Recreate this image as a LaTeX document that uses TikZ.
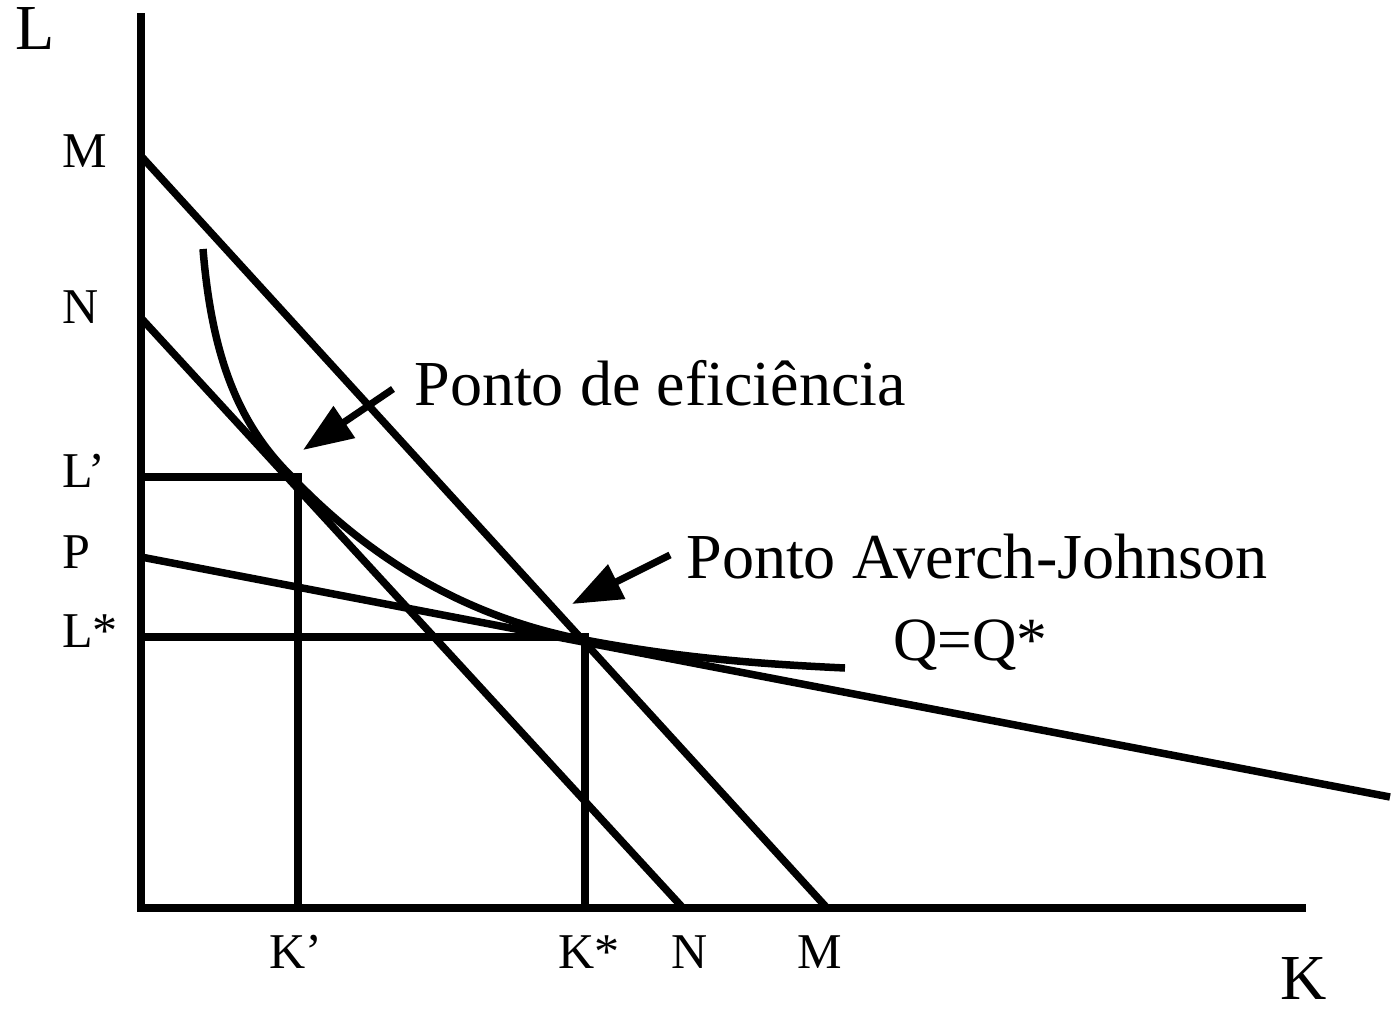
\documentclass[tikz,border=0pt]{standalone}
\usepackage{fontspec}
\setmainfont{Liberation Serif}
\usetikzlibrary{arrows.meta}

\begin{document}
\begin{tikzpicture}[
  x=0.02cm,
  y=-0.02cm,
  >={Triangle[length=1cm,width=0.74cm]},
  axis/.style={line width=0.16cm},
  link/.style={line width=0.15cm},
  pointer/.style={line width=0.14cm, ->},
  tick/.style={anchor=base west, inner sep=0pt, font=\fontsize{28.5}{30}\selectfont},
  big/.style={anchor=base west, inner sep=0pt, font=\fontsize{36.5}{40}\selectfont},
  qlab/.style={anchor=base west, inner sep=0pt, font=\fontsize{35}{38}\selectfont}
]
  \useasboundingbox (0,0) rectangle (1394,1014);

  \coordinate (O) at (141,908);
  \coordinate (Ltop) at (141,13);
  \coordinate (Kend) at (1306,908);
  \coordinate (Mv) at (141,156);
  \coordinate (Mh) at (827,908);
  \coordinate (Nv) at (141,318);
  \coordinate (Nh) at (683,908);
  \coordinate (Pv) at (141,557);
  \coordinate (Pend) at (1390,797);
  \coordinate (Lp) at (141,477);
  \coordinate (E) at (298,477);
  \coordinate (Kp) at (298,908);
  \coordinate (Ls) at (141,637);
  \coordinate (A) at (585,637);
  \coordinate (Ks) at (585,908);

  % eixos
  \draw[axis] (Ltop) -- (O) -- (Kend);

  % retas de isocusto
  \draw[link] (Mv) -- (Mh);
  \draw[link] (Nv) -- (Nh);
  \draw[link] (Pv) -- (Pend);

  % pontos L', K' e L*, K*
  \draw[link] (Lp) -- (E) -- (Kp);
  \draw[link] (Ls) -- (A) -- (Ks);

  % isoquanta
  \draw[link] (203,249) .. controls (212,360) and (240,425) .. (290,475)
    .. controls (380,570) and (480,620) .. (585,640)
    .. controls (680,658) and (760,664) .. (845,668);

  % rotulos dos eixos
  \node[big] (Llab) at (15,50) {L};
  \node[big] (Klab) at (1280,999) {K};

  \node[tick] (Mleft) at (62,167) {M};
  \node[tick] (Nleft) at (62,323) {N};
  \node[tick] (Lpl) at (62,487) {L’};
  \node[tick] (Pleft) at (62,568) {P};
  \node[tick] (Lsl) at (62,647) {L*};

  \node[tick] (Kpl) at (269,968) {K’};
  \node[tick] (Ksl) at (558,968) {K*};
  \node[tick] (Nbot) at (671,968) {N};
  \node[tick] (Mbot) at (797,968) {M};

  % textos e setas
  \node[big] (effTxt) at (414,405) {Ponto de eficiência};
  \node[big] (ajTxt) at (686,578) {Ponto Averch-Johnson};
  \node[qlab] (qTxt) at (893,660) {Q=Q*};

  \coordinate (effTail) at (393,389);
  \coordinate (effTip) at (303,450);
  \coordinate (ajTail) at (670,555);
  \coordinate (ajTip) at (572,604);
  \draw[pointer] (effTail) -- (effTip);
  \draw[pointer] (ajTail) -- (ajTip);
\end{tikzpicture}
\end{document}
